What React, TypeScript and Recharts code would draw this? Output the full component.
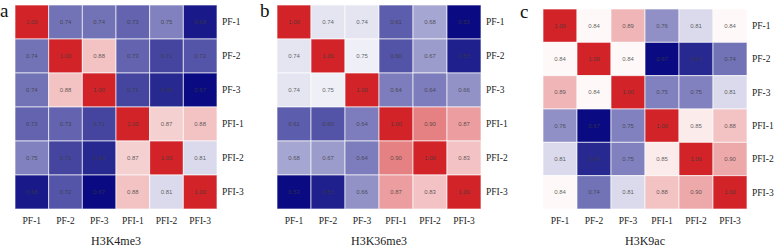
import React from "react";
import { ScatterChart, Scatter, XAxis, YAxis } from "recharts";

const samples = ["PF-1", "PF-2", "PF-3", "PFI-1", "PFI-2", "PFI-3"];

const h3k4me3 = [
  [1.0, 0.74, 0.74, 0.73, 0.75, 0.68],
  [0.74, 1.0, 0.88, 0.73, 0.71, 0.72],
  [0.74, 0.88, 1.0, 0.71, 0.69, 0.67],
  [0.73, 0.73, 0.71, 1.0, 0.87, 0.88],
  [0.75, 0.71, 0.69, 0.87, 1.0, 0.81],
  [0.68, 0.72, 0.67, 0.88, 0.81, 1.0],
];

const h3k36me3 = [
  [1.0, 0.74, 0.74, 0.61, 0.68, 0.53],
  [0.74, 1.0, 0.75, 0.6, 0.67, 0.55],
  [0.74, 0.75, 1.0, 0.64, 0.64, 0.66],
  [0.61, 0.6, 0.64, 1.0, 0.9, 0.87],
  [0.68, 0.67, 0.64, 0.9, 1.0, 0.83],
  [0.53, 0.55, 0.66, 0.87, 0.83, 1.0],
];

const h3k9ac = [
  [1.0, 0.84, 0.89, 0.76, 0.81, 0.84],
  [0.84, 1.0, 0.84, 0.67, 0.69, 0.74],
  [0.89, 0.84, 1.0, 0.75, 0.75, 0.81],
  [0.76, 0.67, 0.75, 1.0, 0.85, 0.88],
  [0.81, 0.69, 0.75, 0.85, 1.0, 0.9],
  [0.84, 0.74, 0.81, 0.88, 0.9, 1.0],
];

const ticks = [0, 1, 2, 3, 4, 5];
const NAVY = [10, 10, 130];
const RED = [210, 35, 40];
const serif = "'Liberation Serif', 'Times New Roman', serif";

// diverging navy -> white -> red, centred between min and max
function colorFor(v: number, lo: number, hi: number) {
  const mid = (lo + hi) / 2;
  let t: number;
  let end: number[];
  if (v < mid) {
    t = (mid - v) / (mid - lo);
    end = NAVY;
  } else {
    t = (v - mid) / (hi - mid);
    end = RED;
  }
  const c = end.map((e) => Math.round(255 + (e - 255) * t));
  return `rgb(${c[0]},${c[1]},${c[2]})`;
}

function toCells(m: number[][]) {
  const flat = m.flat();
  const lo = Math.min(...flat);
  const hi = Math.max(...flat);
  const out: { col: number; row: number; value: number; fill: string }[] = [];
  m.forEach((r, ri) =>
    r.forEach((v, ci) =>
      out.push({ col: ci, row: ri, value: v, fill: colorFor(v, lo, hi) })
    )
  );
  return out;
}

type PanelProps = {
  left: number;
  x0: number;
  x1: number;
  y0: number;
  y1: number;
  axisW: number;
  matrix: number[][];
  title: string;
};

function Panel({ left, x0, x1, y0, y1, axisW, matrix, title }: PanelProps) {
  const cw = (x1 - x0) / 6;
  const ch = (y1 - y0) / 6;
  const width = x1 - left + axisW;
  const height = 247;
  const tickStyle = { fontFamily: serif, fontSize: 9.5, fill: "#222" };

  const renderCell = (p: any) => {
    const { cx, cy, payload } = p;
    return (
      <g>
        <rect
          x={cx - cw / 2}
          y={cy - ch / 2}
          width={cw}
          height={ch}
          fill={payload.fill}
          stroke="rgba(255,255,255,0.65)"
          strokeWidth={1}
        />
        <text
          x={cx}
          y={cy}
          dy="0.35em"
          textAnchor="middle"
          fontSize={6}
          fontFamily="'Liberation Sans', Arial, sans-serif"
          fill="#3a3a3a"
          fillOpacity={0.8}
        >
          {payload.value.toFixed(2)}
        </text>
      </g>
    );
  };

  return (
    <div style={{ position: "absolute", left, top: 0 }}>
      <ScatterChart
        width={width}
        height={height}
        margin={{ top: y0, left: x0 - left, right: 0, bottom: 0 }}
      >
        <XAxis
          type="number"
          dataKey="col"
          domain={[-0.5, 5.5]}
          ticks={ticks}
          tickFormatter={(i: number) => samples[i]}
          axisLine={false}
          tickLine={false}
          tickSize={0}
          tickMargin={8}
          height={height - y1}
          tick={tickStyle}
          interval={0}
          label={{
            value: title,
            position: "insideBottom",
            offset: 2,
            fontFamily: serif,
            fontSize: 12,
            fill: "#222",
            style: { fontFamily: serif, fontSize: 12, fill: "#222" },
          }}
        />
        <YAxis
          type="number"
          dataKey="row"
          orientation="right"
          reversed
          domain={[-0.5, 5.5]}
          ticks={ticks}
          tickFormatter={(i: number) => samples[i]}
          axisLine={false}
          tickLine={false}
          tickSize={0}
          tickMargin={5}
          width={axisW}
          tick={{ ...tickStyle, textAnchor: "start" }}
          interval={0}
        />
        <Scatter data={toCells(matrix)} shape={renderCell} isAnimationActive={false} />
      </ScatterChart>
    </div>
  );
}

export default function App() {
  return (
    <div
      style={{
        position: "absolute",
        left: 0,
        top: 0,
        width: 778,
        height: 247,
        background: "#fff",
        overflow: "hidden",
      }}
    >
      <Panel left={0} x0={15} x1={217} y0={5} y1={209} axisW={43} matrix={h3k4me3} title="H3K4me3" />
      <Panel left={260} x0={277} x1={481} y0={5} y1={209} axisW={40} matrix={h3k36me3} title="H3K36me3" />
      <Panel left={518} x0={543} x1={747} y0={9} y1={209} axisW={31} matrix={h3k9ac} title="H3K9ac" />
      <svg
        width={778}
        height={247}
        style={{ position: "absolute", left: 0, top: 0, pointerEvents: "none" }}
      >
        <text x={0} y={17} fontFamily={serif} fontSize={19} fill="#111">a</text>
        <text x={260} y={17} fontFamily={serif} fontSize={19} fill="#111">b</text>
        <text x={520} y={18} fontFamily={serif} fontSize={19} fill="#111">c</text>
      </svg>
    </div>
  );
}
